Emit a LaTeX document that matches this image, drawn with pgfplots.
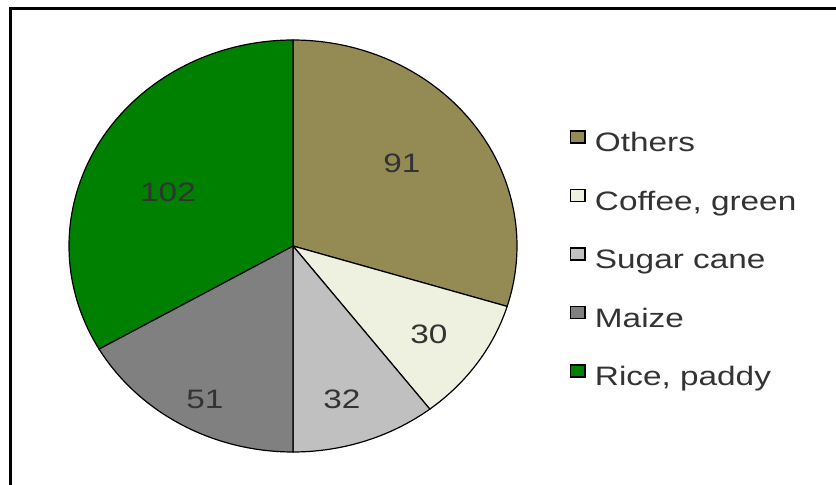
\documentclass[border=0pt]{standalone}
\usepackage{pgfplots}
\pgfplotsset{compat=1.18}
\usepackage{fontspec}
\setmainfont{Liberation Sans}
\definecolor{cOthers}{HTML}{948A54}
\definecolor{cCoffee}{HTML}{EEF0E0}
\definecolor{cSugar}{HTML}{C0C0C0}
\definecolor{cMaize}{HTML}{808080}
\definecolor{cRice}{HTML}{008000}
\definecolor{txt}{HTML}{333333}
\newcommand{\stx}[1]{\scalebox{1.25}[1]{#1}}
\newcommand{\lstx}[1]{\rule[-14.84pt]{0pt}{44pt}\scalebox{1.25}[1]{#1}}
\newcommand{\lfont}{\fontsize{20}{24}\selectfont}
\begin{document}
\begin{tikzpicture}
\def\cx{293}\def\cy{239}\def\Rx{224}\def\Ry{206}
% values
\def\vA{91}\def\vB{30}\def\vC{32}\def\vD{51}\def\vE{102}
\pgfmathsetmacro\tot{\vA+\vB+\vC+\vD+\vE}
\pgfmathsetmacro\aA{90}
\pgfmathsetmacro\aB{\aA-\vA/\tot*360}
\pgfmathsetmacro\aC{\aB-\vB/\tot*360}
\pgfmathsetmacro\aD{\aC-\vC/\tot*360}
\pgfmathsetmacro\aE{\aD-\vD/\tot*360}
\pgfmathsetmacro\aF{\aE-\vE/\tot*360}
\begin{axis}[
  scale only axis, width=627pt, height=363.75pt,
  xmin=0, xmax=836, ymin=0, ymax=485,
  hide axis, clip=false,
  legend style={at={(axis cs:569.5,372.3)}, anchor=north west, draw=none, fill=none,
    font=\lfont, text=txt, row sep=13.25pt, inner sep=0pt, outer sep=0pt,
    nodes={inner sep=0pt, outer sep=0pt},
    /tikz/every odd column/.append style={column sep=7pt},
    cells={anchor=west}},
  legend image code/.code={\draw[#1,draw=black,line width=1.1pt] (0pt,-7.34pt) rectangle (11pt,1.66pt);},
  every axis plot/.append style={draw=black, line width=0.9pt, samples=80, variable=\t},
]
\addplot[fill=cOthers, domain=\aB:\aA] ({\cx+\Rx*cos(\t)},{\cy+\Ry*sin(\t)}) -- (\cx,\cy) -- cycle;
\addlegendentry{\lstx{Others}}
\addplot[fill=cCoffee, domain=\aC:\aB] ({\cx+\Rx*cos(\t)},{\cy+\Ry*sin(\t)}) -- (\cx,\cy) -- cycle;
\addlegendentry{\lstx{Coffee, green}}
\addplot[fill=cSugar, domain=\aD:\aC] ({\cx+\Rx*cos(\t)},{\cy+\Ry*sin(\t)}) -- (\cx,\cy) -- cycle;
\addlegendentry{\lstx{Sugar cane}}
\addplot[fill=cMaize, domain=\aE:\aD] ({\cx+\Rx*cos(\t)},{\cy+\Ry*sin(\t)}) -- (\cx,\cy) -- cycle;
\addlegendentry{\lstx{Maize}}
\addplot[fill=cRice, domain=\aF:\aE] ({\cx+\Rx*cos(\t)},{\cy+\Ry*sin(\t)}) -- (\cx,\cy) -- cycle;
\addlegendentry{\lstx{Rice, paddy}}
\node[text=txt, font=\lfont] at (axis cs:402,322) {\stx{91}};
\node[text=txt, font=\lfont] at (axis cs:168,293) {\stx{102}};
\node[text=txt, font=\lfont] at (axis cs:429,151) {\stx{30}};
\node[text=txt, font=\lfont] at (axis cs:342,86) {\stx{32}};
\node[text=txt, font=\lfont] at (axis cs:205,86) {\stx{51}};
\draw[line width=2.2pt] (axis cs:845,476.3) -- (axis cs:10.7,476.3) -- (axis cs:10.7,-10);
\end{axis}
\pgfresetboundingbox
\path (current axis.south west) rectangle (current axis.north east);
\end{tikzpicture}
\end{document}
